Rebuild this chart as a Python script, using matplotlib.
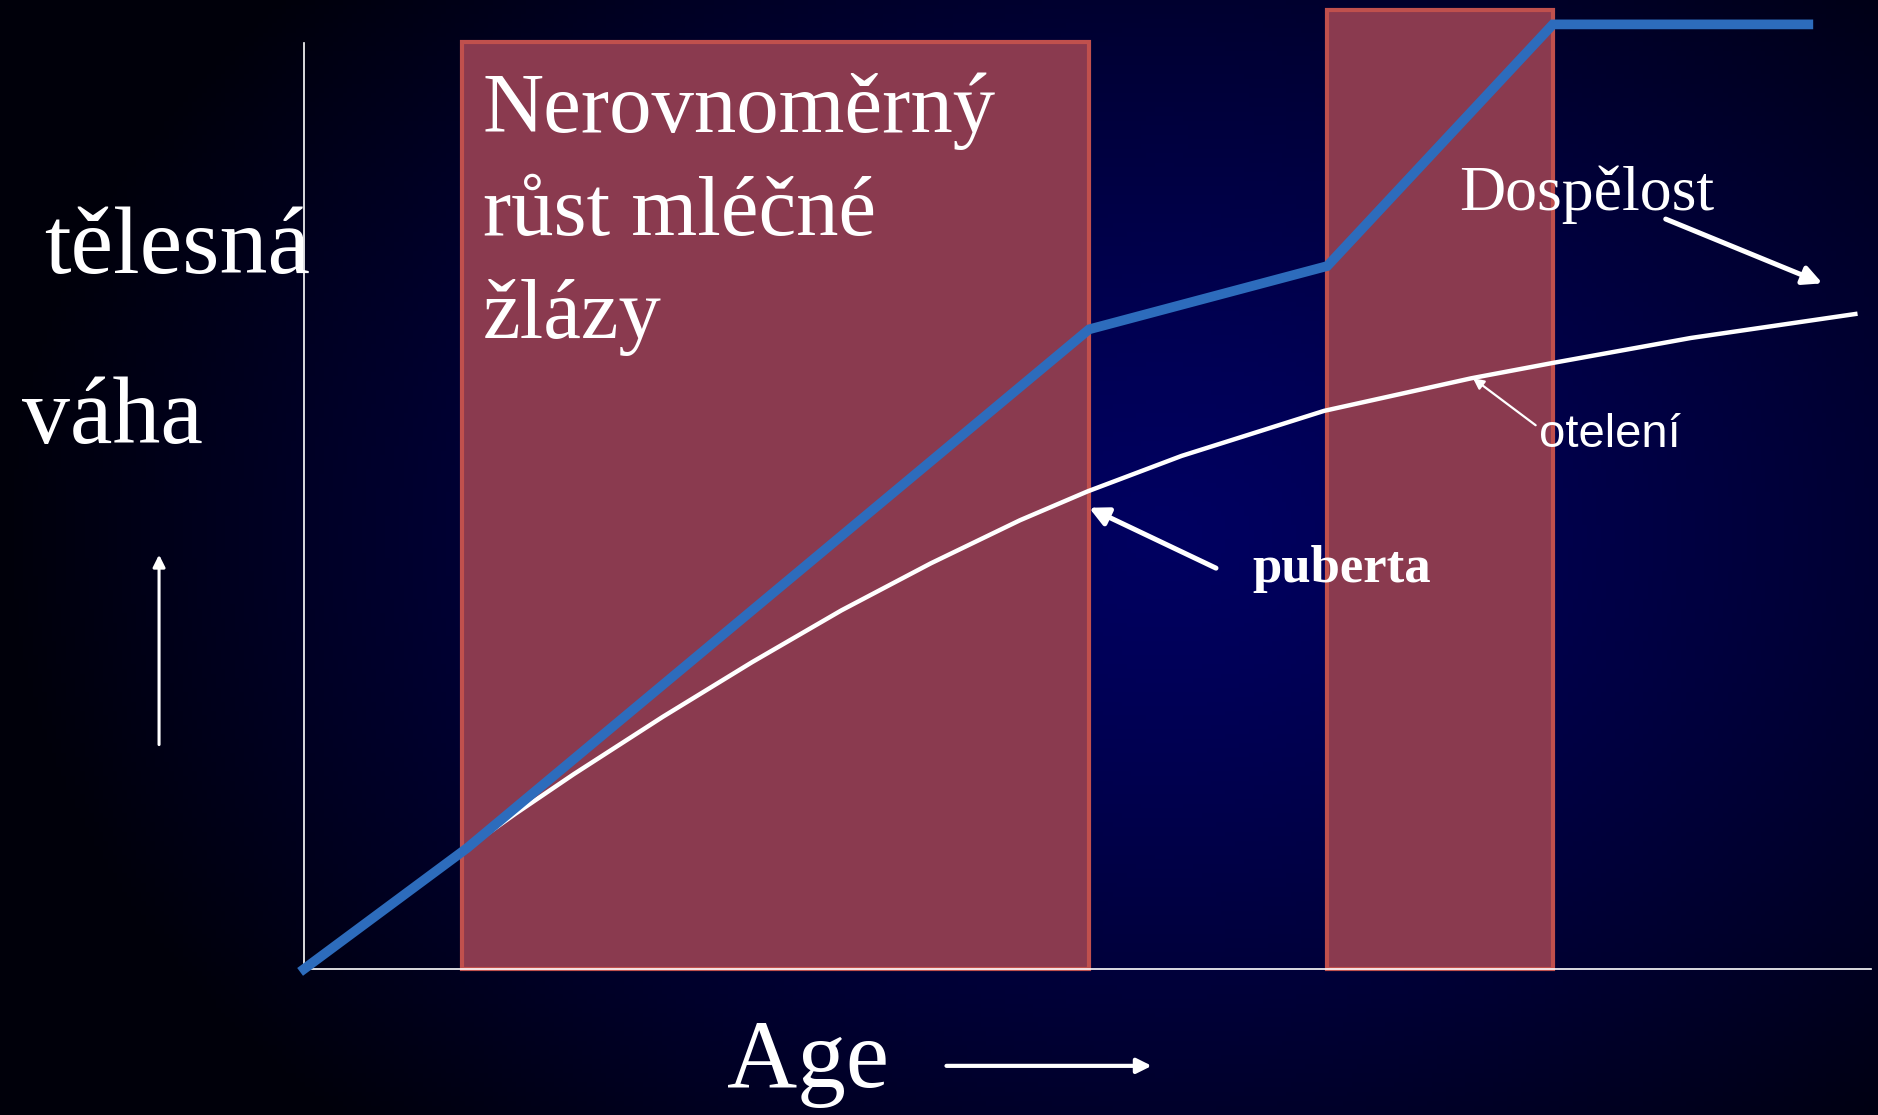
import numpy as np
import matplotlib.pyplot as plt

# growth curves (age in % of x-axis, body weight in % of y-axis)
age_blue = [0, 10.4, 50.1, 65.3, 79.7, 96.0]
weight_blue = [0, 12.6, 66.7, 73.3, 98.5, 98.5]

age_white = [0, 10.4, 13.5, 17.2, 22.9, 28.6, 34.3, 40.0, 45.7, 50.0,
             56.0, 65.1, 74.5, 79.7, 88.5, 99.0]
weight_white = [0, 12.6, 16.2, 20.3, 26.3, 32.0, 37.4, 42.3, 46.8, 49.8,
                53.5, 58.2, 61.6, 63.2, 65.8, 68.3]

# phases of uneven mammary gland growth
phase_start = [10.1, 65.3]
phase_end = [50.1, 79.7]
phase_top = [96.7, 100.0]

title_lines = ["Nerovnoměrný", "růst mléčné", "žlázy"]

W, H = 1878, 1115
fig = plt.figure(figsize=(W / 100, H / 100), dpi=100)

# background: dark navy radial gradient
bg = fig.add_axes([0, 0, 1, 1], zorder=-10)
gx, gy = np.meshgrid(np.linspace(0, 1, 400), np.linspace(0, 1, 240))
r = np.sqrt(((gx - 0.62) / 0.62) ** 2 + ((gy - 0.52) / 0.75) ** 2)
t = np.clip(r, 0, 1) ** 1.3
center = np.array([0, 0, 96]) / 255
edge = np.array([0, 0, 10]) / 255
img = center[None, None, :] * (1 - t[..., None]) + edge[None, None, :] * t[..., None]
bg.imshow(img, extent=[0, 1, 0, 1], aspect='auto', origin='lower')
bg.axis('off')

# chart area: origin at pixel (304, 969), 100 units -> (1871, 10)
ax = fig.add_axes([304 / W, (H - 969) / H, (1871 - 304) / W, (969 - 10) / H])
ax.set_xlim(0, 100)
ax.set_ylim(0, 100)
ax.patch.set_alpha(0)
ax.set_xticks([])
ax.set_yticks([])
for s in ['top', 'right']:
    ax.spines[s].set_visible(False)
for s in ['left', 'bottom']:
    ax.spines[s].set_color('white')
    ax.spines[s].set_linewidth(1.2)
ax.spines['left'].set_bounds(0, 96.6)

for x0, x1, top in zip(phase_start, phase_end, phase_top):
    ax.add_patch(plt.Rectangle((x0, 0), x1 - x0, top, facecolor='#8A3A4F',
                               edgecolor='#C0504D', lw=3, zorder=2, clip_on=False))

ax.plot(age_white, weight_white, color='white', lw=3.2, zorder=3, clip_on=False,
        solid_joinstyle='round')
ax.plot(age_blue, weight_blue, color='#2D6CBC', lw=7, zorder=4, clip_on=False,
        solid_joinstyle='miter')

serif = ['Liberation Serif', 'DejaVu Serif']
sans = ['Liberation Sans', 'DejaVu Sans']

for i, line in enumerate(title_lines):
    ax.text(11.4, 87.3 - i * 10.75, line, fontsize=61, family=serif, color='white',
            va='baseline', zorder=5)

ax.text(-16.6, 72.6, "tělesná", fontsize=69, family=serif, color='white',
        va='baseline', clip_on=False, zorder=5)
ax.text(-18.0, 54.8, "váha", fontsize=69, family=serif, color='white',
        va='baseline', clip_on=False)
ax.text(27.0, -12.3, "Age", fontsize=70, family=serif, color='white',
        va='baseline', clip_on=False)
ax.text(73.7, 79.1, "Dospělost", fontsize=46, family=serif, color='white',
        va='baseline', zorder=5)
ax.text(78.8, 54.4, "otelení", fontsize=34, family=sans, color='white',
        va='baseline', zorder=5)
ax.text(60.5, 40.4, "puberta", fontsize=38, family=serif, weight='bold',
        color='white', va='baseline', zorder=5)

def arrow(x0, y0, x1, y1, lw, ms):
    ax.annotate("", xy=(x1, y1), xytext=(x0, y0),
                arrowprops=dict(arrowstyle='-|>', color='white', lw=lw,
                                mutation_scale=ms, shrinkA=0, shrinkB=0),
                annotation_clip=False, zorder=6)

arrow(-9.25, 23.4, -9.25, 43.2, 2.2, 18)
arrow(41.0, -10.1, 54.1, -10.1, 3.0, 22)
arrow(58.2, 41.8, 50.1, 48.1, 3.6, 28)
arrow(78.6, 56.7, 74.6, 61.6, 1.6, 16)
arrow(86.9, 78.2, 96.9, 71.5, 3.6, 28)

fig.savefig("out.png", dpi=100)
